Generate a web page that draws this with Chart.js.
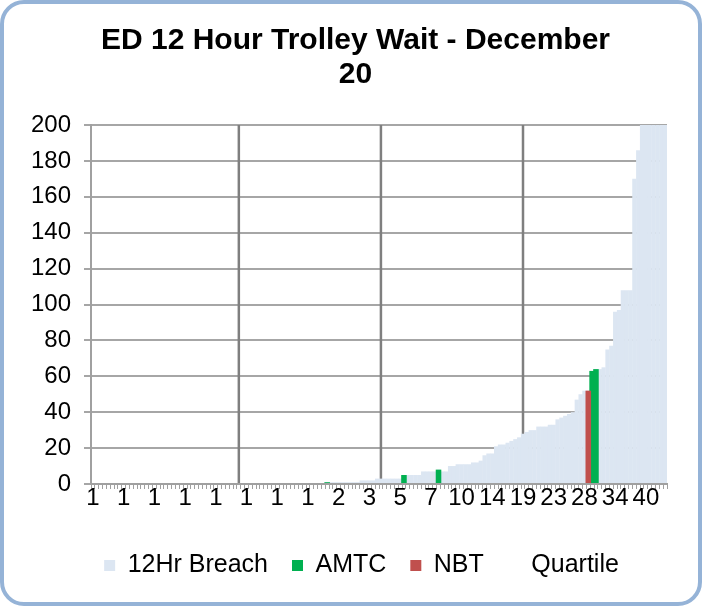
<!DOCTYPE html>
<html>
<head>
<meta charset="utf-8">
<script src="https://cdn.jsdelivr.net/npm/chart.js@4.4.0/dist/chart.umd.min.js"></script>
<style>
    html, body { margin: 0; padding: 0; background: #ffffff; }
    .frame {
        width: 702px;
        height: 606px;
        box-sizing: border-box;
        border: 4px solid #95b3d7;
        border-radius: 24px;
        overflow: hidden;
        background: #ffffff;
    }
    .frame canvas { display: block; }
</style>
</head>
<body>
<div class="frame"><canvas id="trolleyChart" width="694" height="598"></canvas></div>
<script>
// 12 hour trolley waits per trust, sorted ascending (values above 200 are clipped by the axis)
const breach = [
    0, 0, 0, 0, 0, 0, 0, 0, 0, 0,
    0, 0, 0, 0, 0, 0, 0, 0, 0, 0,
    0, 0, 0, 0, 0, 0, 0, 0, 0, 0,
    0, 0, 0, 0, 0, 0, 0, 0, 0, 0,
    0, 0, 0, 0, 0, 0, 0, 0, 0, 0,
    0, 0, 0, 0, 0, 0, 0, 0, 0, 0,
    0, 1, 1, 1, 1, 1, 1, 1, 1, 1,
    2, 2, 2, 2, 3, 3, 3, 3, 3, 3,
    3, 5, 5, 5, 5, 5, 7, 7, 7, 7,
    8, 7, 7, 10, 10, 11, 11, 11, 11, 12,
    12, 13, 16, 17, 17, 21, 22, 22, 23, 24,
    25, 26, 28, 29, 30, 30, 32, 32, 32, 33,
    33, 36, 37, 38, 39, 40, 47, 50, 52, 52,
    63, 64, 64, 65, 75, 77, 96, 97, 108, 108,
    108, 170, 186, 200, 200, 200, 200, 200, 200, 200
];

// highlighted trusts (position in the sorted list and their value)
const amtcIndex = [61, 81, 90, 130, 131];
const amtcValues = [1, 5, 8, 63, 64];
const nbtIndex = [129];
const nbtValues = [52];

// quartile markers
const quartileIndex = [38, 75, 112];
const quartileValue = 200;

// x tick labels, one every 8 categories
const tickLabels = ['1', '1', '1', '1', '1', '1', '1', '1', '2', '3', '5', '7', '10', '14', '19', '23', '28', '34', '40'];
const labelStep = 8;

const yMin = 0;
const yMax = 200;
const yStep = 20;

const categories = breach.map((v, i) => i);

function spread(index, values) {
    const out = breach.map(() => null);
    index.forEach((k, i) => { out[k] = values[i]; });
    return out;
}

const FONT = "'Liberation Sans', Arial, sans-serif";

// keep the "Quartile" legend entry without a visible swatch
function legendLabels(chart) {
    const items = Chart.defaults.plugins.legend.labels.generateLabels(chart);
    items.forEach(item => {
        if (item.text === 'Quartile') {
            item.fillStyle = 'rgba(0,0,0,0)';
            item.strokeStyle = 'rgba(0,0,0,0)';
        }
        item.lineWidth = 0;
    });
    return items;
}

// nudge title and legend a little to the right, like the original layout
const boxShift = {
    id: 'boxShift',
    afterLayout(chart) {
        chart.titleBlock.left += 20;
        chart.titleBlock.right += 20;
        chart.legend.left += 26;
        chart.legend.right += 26;
    }
};

const ctx = document.getElementById('trolleyChart').getContext('2d');
new Chart(ctx, {
    type: 'bar',
    data: {
        labels: categories,
        datasets: [{
            label: '12Hr Breach',
            data: breach,
            backgroundColor: '#dce6f2',
            borderWidth: 0,
            grouped: false,
            barPercentage: 1.1,
            categoryPercentage: 1,
            order: 2
        }, {
            label: 'AMTC',
            data: spread(amtcIndex, amtcValues),
            backgroundColor: '#00b050',
            borderWidth: 0,
            grouped: false,
            barPercentage: 1.45,
            categoryPercentage: 1,
            order: 1
        }, {
            label: 'NBT',
            data: spread(nbtIndex, nbtValues),
            backgroundColor: '#c0504d',
            borderWidth: 0,
            grouped: false,
            barPercentage: 1.45,
            categoryPercentage: 1,
            order: 0
        }, {
            label: 'Quartile',
            data: spread(quartileIndex, quartileIndex.map(() => quartileValue)),
            backgroundColor: '#7f7f7f',
            borderWidth: 0,
            grouped: false,
            barPercentage: 0.65,
            categoryPercentage: 1,
            order: 3
        }]
    },
    options: {
        responsive: false,
        animation: false,
        layout: {
            padding: { left: 0, right: 31, top: 0, bottom: 14 }
        },
        plugins: {
            title: {
                display: true,
                text: ['ED 12 Hour Trolley Wait - December', '20'],
                color: '#000000',
                font: { family: FONT, size: 30, weight: 'bold', lineHeight: 1.15 },
                padding: { top: 19, bottom: 33 }
            },
            legend: {
                position: 'bottom',
                labels: {
                    color: '#000000',
                    font: { family: FONT, size: 25 },
                    boxWidth: 11,
                    boxHeight: 11,
                    padding: 24,
                    generateLabels: legendLabels,
                    sort: (a, b) => a.datasetIndex - b.datasetIndex
                }
            },
            tooltip: { enabled: false }
        },
        scales: {
            x: {
                offset: true,
                afterFit: scale => { scale.height = 45; },
                grid: {
                    drawOnChartArea: false,
                    drawTicks: true,
                    tickLength: 5,
                    color: '#a0a0a0',
                    lineWidth: 1
                },
                border: { display: true, color: '#a0a0a0', width: 2 },
                ticks: {
                    autoSkip: false,
                    maxRotation: 0,
                    minRotation: 0,
                    padding: -3,
                    color: '#000000',
                    font: { family: FONT, size: 24, lineHeight: 1 },
                    callback: (value, index) => index % labelStep === 0 ? tickLabels[index / labelStep] : ''
                }
            },
            y: {
                min: yMin,
                max: yMax,
                afterFit: scale => { scale.width = 87; },
                grid: {
                    color: '#a6a6a6',
                    lineWidth: 2,
                    tickLength: 7
                },
                border: { display: true, color: '#a0a0a0', width: 2 },
                ticks: {
                    stepSize: yStep,
                    padding: 13,
                    color: '#000000',
                    font: { family: FONT, size: 24 }
                }
            }
        }
    },
    plugins: [boxShift]
});
</script>
</body>
</html>
